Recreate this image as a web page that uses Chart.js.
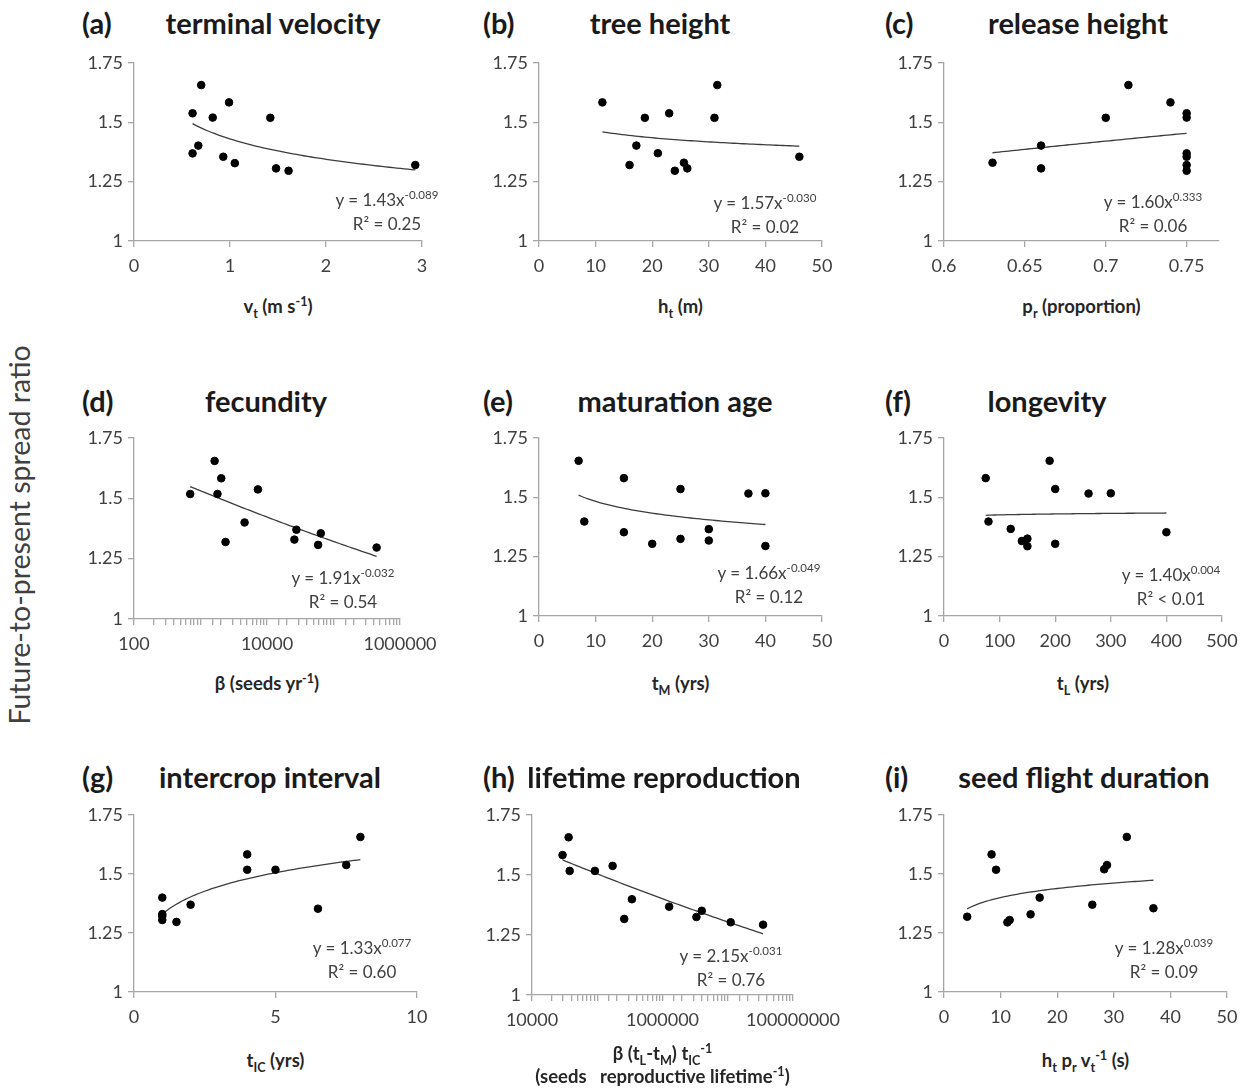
<!DOCTYPE html>
<html>
<head>
<meta charset="utf-8">
<script src="https://cdn.jsdelivr.net/npm/chart.js@4.4.1/dist/chart.umd.min.js"></script>
<style>
    body { margin: 0; background: #fff; }
    #page { position: relative; width: 1253px; height: 1088px; overflow: hidden; font-family: Lato, 'Open Sans', sans-serif; color: #262626; }
    .box { position: absolute; }
    .tag, .ttl { position: absolute; font-weight: 700; font-size: 29px; white-space: nowrap; color: #1a1a1a; }
    .tag { transform: translateY(-50%); }
    .ttl { transform: translate(-50%, -50%); }
    .xt { position: absolute; font-weight: 700; font-size: 18.5px; transform: translate(-50%, -50%); white-space: nowrap; color: #262626; }
    .eq { position: absolute; font-size: 17px; line-height: 24px; text-align: center; transform: translateX(-50%); white-space: nowrap; color: #404040; }
    sup, sub { font-size: 68%; line-height: 0; }
    .ylab { position: absolute; left: 19px; top: 535px; transform: translate(-50%, -50%) rotate(-90deg); font-size: 28.5px; white-space: nowrap; color: #404040; }
</style>
</head>
<body>
<div id="page">
    <div class="ylab">Future-to-present spread ratio</div>
</div>
<script>
// shared y axis
const yTicks = [1, 1.25, 1.5, 1.75];

// (a) terminal velocity, m s-1
const vtX = [0.61, 0.70, 0.61, 0.67, 0.82, 0.99, 0.93, 1.05, 1.42, 1.48, 1.61, 2.93];
const vtY = [1.538, 1.657, 1.369, 1.402, 1.520, 1.584, 1.355, 1.328, 1.519, 1.306, 1.296, 1.320];
const vtTicks = [0, 1, 2, 3];

// (b) tree height, m
const htX = [11.2, 16.0, 17.2, 18.7, 21.0, 23.0, 24.0, 25.6, 26.2, 31.0, 31.5, 46.0];
const htY = [1.584, 1.320, 1.402, 1.519, 1.370, 1.538, 1.296, 1.330, 1.306, 1.519, 1.657, 1.355];
const htTicks = [0, 10, 20, 30, 40, 50];

// (c) release height, proportion
const prX = [0.63, 0.66, 0.66, 0.70, 0.714, 0.74, 0.75, 0.75, 0.75, 0.75, 0.75, 0.75];
const prY = [1.330, 1.402, 1.306, 1.519, 1.657, 1.584, 1.538, 1.520, 1.369, 1.355, 1.320, 1.296];
const prTicks = [0.6, 0.65, 0.7, 0.75];

// (d) fecundity, seeds yr-1
const fecX = [700, 1630, 2050, 1800, 2380, 4600, 7300, 25800, 27700, 58700, 64400, 445000];
const fecY = [1.518, 1.655, 1.583, 1.518, 1.319, 1.400, 1.537, 1.329, 1.370, 1.307, 1.355, 1.296];
const fecTicks = [100, 10000, 1000000];

// (e) maturation age, yrs
const tmX = [7, 8, 15, 15, 20, 25, 25, 30, 30, 37, 40, 40];
const tmY = [1.654, 1.398, 1.581, 1.353, 1.304, 1.535, 1.325, 1.366, 1.318, 1.516, 1.517, 1.295];
const tmTicks = [0, 10, 20, 30, 40, 50];

// (f) longevity, yrs
const tlX = [75, 80, 120, 140, 150, 150, 190, 200, 200, 260, 300, 400];
const tlY = [1.581, 1.398, 1.367, 1.316, 1.326, 1.294, 1.654, 1.535, 1.304, 1.516, 1.517, 1.353];
const tlTicks = [0, 100, 200, 300, 400, 500];

// (g) intercrop interval, yrs
const ticX = [1, 1, 1, 1, 1.5, 2, 4, 4, 5, 6.5, 7.5, 8];
const ticY = [1.400, 1.330, 1.322, 1.305, 1.297, 1.370, 1.583, 1.518, 1.518, 1.353, 1.538, 1.657];
const ticTicks = [0, 5, 10];

// (h) lifetime reproduction
const lrX = [29400, 36400, 37800, 92000, 172000, 259000, 340000, 1265000, 3310000, 4000000, 11100000, 34800000];
const lrY = [1.583, 1.657, 1.517, 1.517, 1.538, 1.317, 1.399, 1.368, 1.325, 1.351, 1.303, 1.293];
const lrTicks = [10000, 1000000, 100000000];

// (i) seed flight duration, s
const sfX = [4.1, 8.4, 9.2, 11.2, 11.6, 15.3, 16.9, 26.2, 28.3, 28.8, 32.3, 37.0];
const sfY = [1.319, 1.583, 1.518, 1.295, 1.305, 1.329, 1.400, 1.370, 1.520, 1.538, 1.657, 1.355];
const sfTicks = [0, 10, 20, 30, 40, 50];

// power-law trendlines as printed on each panel (y = a x^b)
const fitA = [1.43, 1.57, 1.60, 1.91, 1.66, 1.40, 1.33, 2.15, 1.28];
const fitB = [-0.089, -0.030, 0.333, -0.032, -0.049, 0.004, 0.077, -0.031, 0.039];
const fitR2 = ['R² = 0.25', 'R² = 0.02', 'R² = 0.06', 'R² = 0.54', 'R² = 0.12', 'R² < 0.01', 'R² = 0.60', 'R² = 0.76', 'R² = 0.09'];

const FONT = "Lato, 'Open Sans', sans-serif";
const TXT = '#404040';
const AXIS = '#a6a6a6';
const YW = 60, XH = 42, PT = 14, PR = 60;

// plot rect = [left, top(1.75), right, bottom(1.0)]
const panels = [
    { tag: '(a)', title: 'terminal velocity', xs: vtX, ys: vtY, ticks: vtTicks, min: 0, max: 3, rect: [134, 63, 422, 241], tx: 82, cx: 273, ty: 22, eq: [387, 188], xlab: 'v<sub>t</sub> (m s<sup>-1</sup>)', xly: 306 },
    { tag: '(b)', title: 'tree height', xs: htX, ys: htY, ticks: htTicks, min: 0, max: 50, rect: [539, 63, 822, 241], tx: 483, cx: 660, ty: 22, eq: [765, 191], xlab: 'h<sub>t</sub> (m)', xly: 306 },
    { tag: '(c)', title: 'release height', xs: prX, ys: prY, ticks: prTicks, min: 0.6, max: 0.77, rect: [944, 63, 1219, 241], tx: 885, cx: 1078, ty: 22, eq: [1153, 190], xlab: 'p<sub>r</sub> (proportion)', xly: 306 },
    { tag: '(d)', title: 'fecundity', xs: fecX, ys: fecY, ticks: fecTicks, min: 100, max: 1000000, log: true, rect: [134, 438, 400, 619], tx: 82, cx: 266, ty: 400, eq: [343, 566], xlab: 'β (seeds yr<sup>-1</sup>)', xly: 683 },
    { tag: '(e)', title: 'maturation age', xs: tmX, ys: tmY, ticks: tmTicks, min: 0, max: 50, rect: [539, 438, 822, 616], tx: 483, cx: 675, ty: 400, eq: [769, 561], xlab: 't<sub>M</sub> (yrs)', xly: 683 },
    { tag: '(f)', title: 'longevity', xs: tlX, ys: tlY, ticks: tlTicks, min: 0, max: 500, rect: [944, 438, 1222, 616], tx: 885, cx: 1047, ty: 400, eq: [1171, 563], xlab: 't<sub>L</sub> (yrs)', xly: 683 },
    { tag: '(g)', title: 'intercrop interval', xs: ticX, ys: ticY, ticks: ticTicks, min: 0, max: 10, rect: [134, 815, 417, 992], tx: 82, cx: 270, ty: 776, eq: [362, 936], xlab: 't<sub>IC</sub> (yrs)', xly: 1060 },
    { tag: '(h)', title: 'lifetime reproduction', xs: lrX, ys: lrY, ticks: lrTicks, min: 10000, max: 100000000, log: true, rect: [532, 815, 793, 995], tx: 483, cx: 664, ty: 776, eq: [731, 944], xlab: 'β (t<sub>L</sub>-t<sub>M</sub>) t<sub>IC</sub><sup>-1</sup>', xly: 1053, xlab2: '(seeds&nbsp;&nbsp; reproductive lifetime<sup>-1</sup>)' },
    { tag: '(i)', title: 'seed flight duration', xs: sfX, ys: sfY, ticks: sfTicks, min: 0, max: 50, rect: [944, 815, 1227, 992], tx: 885, cx: 1084, ty: 776, eq: [1164, 936], xlab: 'h<sub>t</sub> p<sub>r</sub> v<sub>t</sub><sup>-1</sup> (s)', xly: 1060 }
];

const page = document.getElementById('page');

function addText(cls, html, x, y) {
    const d = document.createElement('div');
    d.className = cls;
    d.innerHTML = html;
    d.style.left = x + 'px';
    d.style.top = y + 'px';
    page.appendChild(d);
    return d;
}

function trendPoints(i, p) {
    const lo = Math.min(...p.xs), hi = Math.max(...p.xs);
    const out = [];
    for (let k = 0; k <= 60; k++) {
        const t = k / 60;
        const x = p.log ? Math.exp(Math.log(lo) + t * (Math.log(hi) - Math.log(lo))) : lo + t * (hi - lo);
        out.push({ x: x, y: fitA[i] * Math.pow(x, fitB[i]) });
    }
    return out;
}

function mkPanel(p, i) {
    const [L, T, R, B] = p.rect;
    const left = L - YW, top = T - PT;
    const w = Math.min(R + PR, 1253) - left, h = B + XH - top;
    const padR = w - (R - left);

    const box = document.createElement('div');
    box.className = 'box';
    box.style.left = left + 'px';
    box.style.top = top + 'px';
    const cv = document.createElement('canvas');
    cv.width = w; cv.height = h;
    cv.style.width = w + 'px'; cv.style.height = h + 'px';
    box.appendChild(cv);
    page.appendChild(box);

    const labelled = v => p.ticks.some(t => Math.abs(v - t) <= Math.abs(t) * 1e-6 + 1e-9);

    new Chart(cv, {
        type: 'scatter',
        data: {
            datasets: [{
                data: p.xs.map((x, k) => ({ x: x, y: p.ys[k] })),
                backgroundColor: '#000',
                borderColor: '#000',
                pointRadius: 3.8,
                pointHoverRadius: 3.8,
                order: 1
            }, {
                data: trendPoints(i, p),
                showLine: true,
                borderColor: '#3c3c3c',
                borderWidth: 1.3,
                pointRadius: 0,
                order: 2
            }]
        },
        options: {
            responsive: false,
            animation: false,
            layout: { padding: { top: PT, right: padR, left: 0, bottom: 0 } },
            plugins: { legend: { display: false }, tooltip: { enabled: false } },
            scales: {
                x: {
                    type: p.log ? 'logarithmic' : 'linear',
                    min: p.min, max: p.max,
                    border: { display: true, color: AXIS, width: 1.3 },
                    grid: { drawOnChartArea: false, drawTicks: true, tickLength: 6, color: AXIS, lineWidth: 1.3 },
                    ticks: {
                        autoSkip: false, maxRotation: 0, padding: 8,
                        color: TXT, font: { family: FONT, size: 18 },
                        callback: v => labelled(v) ? String(v) : ''
                    },
                    afterBuildTicks: s => { if (!p.log) s.ticks = p.ticks.map(v => ({ value: v })); },
                    afterFit: s => { s.height = XH; s.paddingLeft = 0; s.paddingRight = 0; }
                },
                y: {
                    min: 1, max: 1.75,
                    border: { display: true, color: AXIS, width: 1.3 },
                    grid: { drawOnChartArea: false, drawTicks: true, tickLength: 6, color: AXIS, lineWidth: 1.3 },
                    ticks: { padding: 5, color: TXT, font: { family: FONT, size: 18 }, callback: v => String(v) },
                    afterBuildTicks: s => { s.ticks = yTicks.map(v => ({ value: v })); },
                    afterFit: s => { s.width = YW; s.paddingTop = 0; s.paddingBottom = 0; }
                }
            }
        }
    });

    addText('tag', p.tag, p.tx, p.ty);
    addText('ttl', p.title, p.cx, p.ty);
    addText('xt', p.xlab, (L + R) / 2, p.xly);
    if (p.xlab2) addText('xt', p.xlab2, (L + R) / 2, p.xly + 23);
    addText('eq', 'y = ' + fitA[i].toFixed(2) + 'x<sup>' + fitB[i].toFixed(3) + '</sup><br>' + fitR2[i], p.eq[0], p.eq[1]);
}

panels.forEach(mkPanel);
</script>
</body>
</html>
